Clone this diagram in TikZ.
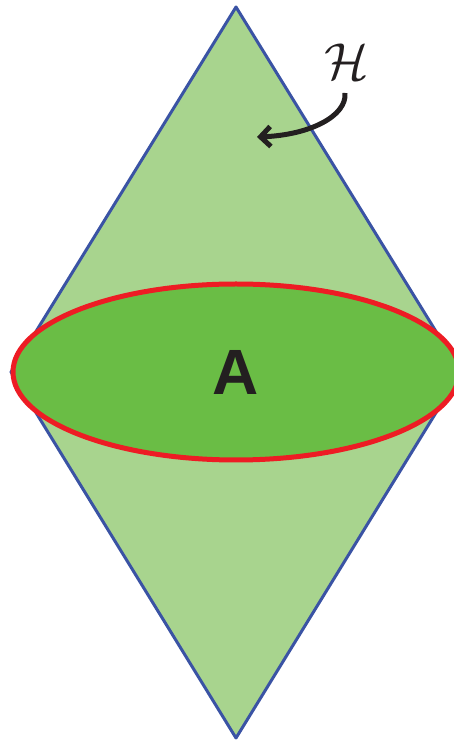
\documentclass[tikz,border=0pt]{standalone}
\usepackage{fontspec}
\newfontfamily\labelsans{Liberation Sans}
\usetikzlibrary{arrows.meta}
\definecolor{lightg}{HTML}{A8D48E}
\definecolor{darkg}{HTML}{6ABD45}
\definecolor{redc}{HTML}{ED1C24}
\definecolor{bluec}{HTML}{3A53A4}
\definecolor{inkc}{HTML}{231F20}
\tikzset{
  cone/.style={fill=lightg, draw=bluec, line width=3pt, line join=round},
  region/.style={fill=darkg, draw=redc, line width=5pt},
  pointer/.style={draw=inkc, line width=5pt, -{Straight Barb[length=10pt,width=20pt]}}
}
\begin{document}
\begin{tikzpicture}[x=1pt,y=1pt]
\useasboundingbox (0,0) rectangle (453,742);
\coordinate (top) at (236,735);
\coordinate (bot) at (236,4);
\coordinate (lft) at (11,370);
\coordinate (rgt) at (461,370);
\draw[cone] (top) -- (rgt) -- (bot) -- (lft) -- cycle;
\draw[region] (236,370) ellipse [x radius=223, y radius=88];
\node[text=inkc, font=\labelsans\bfseries\fontsize{64}{64}\selectfont] (A) at (236,370) {A};
\node[text=inkc, scale=5.2] (H) at (347,680) {$\mathcal{H}$};
\coordinate (hs) at (345,649);
\coordinate (ht) at (257,605);
\draw[pointer] (hs) .. controls (347,626) and (310,607) .. (ht);
\end{tikzpicture}
\end{document}
